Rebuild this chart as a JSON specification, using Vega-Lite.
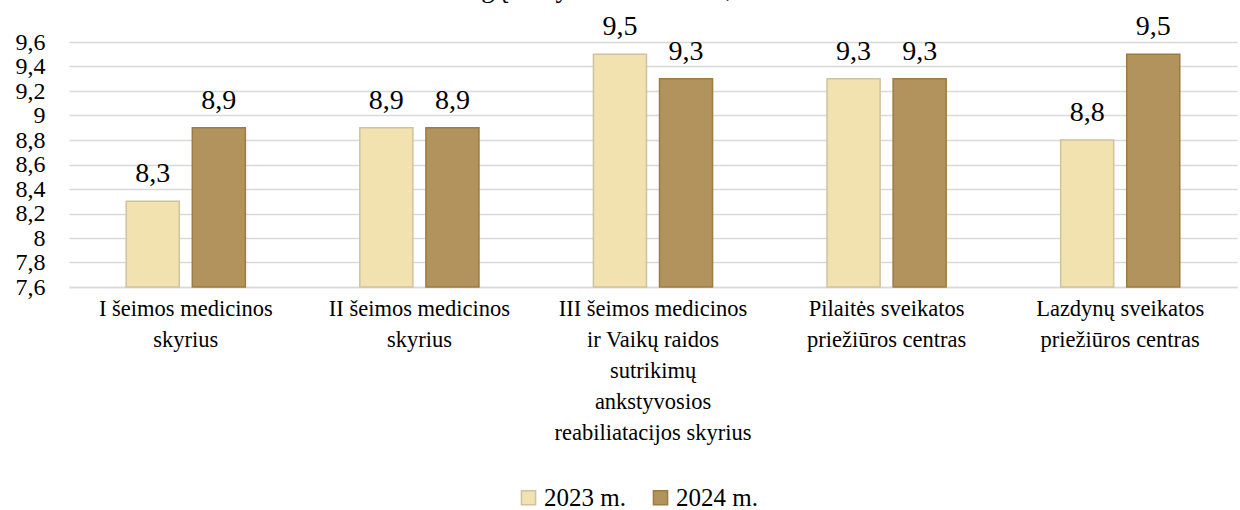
{
  "$schema": "https://vega.github.io/schema/vega-lite/v6.json",
  "width": 1168,
  "height": 245,
  "autosize": {"type": "none"},
  "padding": {"left": 69, "top": 42, "right": 3, "bottom": 223},
  "title": {"text": "Paslaugų kokybės vertinimas, 2023–2024 m.", "font": "Times New Roman, Liberation Serif, serif", "fontSize": 27, "fontWeight": "normal", "color": "#000000", "baseline": "alphabetic", "offset": 1, "dy": 12},
  "config": {
    "locale": {"number": {"decimal": ",", "thousands": " ", "grouping": [3], "currency": ["", ""]}},
    "font": "Liberation Serif",
    "view": {"stroke": null}
  },
  "data": {"values": [
    {"cat": "I šeimos medicinos|skyrius", "year": "2023 m.", "v": 8.3},
    {"cat": "I šeimos medicinos|skyrius", "year": "2024 m.", "v": 8.9},
    {"cat": "II šeimos medicinos|skyrius", "year": "2023 m.", "v": 8.9},
    {"cat": "II šeimos medicinos|skyrius", "year": "2024 m.", "v": 8.9},
    {"cat": "III šeimos medicinos|ir Vaikų raidos|sutrikimų|ankstyvosios|reabiliatacijos skyrius", "year": "2023 m.", "v": 9.5},
    {"cat": "III šeimos medicinos|ir Vaikų raidos|sutrikimų|ankstyvosios|reabiliatacijos skyrius", "year": "2024 m.", "v": 9.3},
    {"cat": "Pilaitės sveikatos|priežiūros centras", "year": "2023 m.", "v": 9.3},
    {"cat": "Pilaitės sveikatos|priežiūros centras", "year": "2024 m.", "v": 9.3},
    {"cat": "Lazdynų sveikatos|priežiūros centras", "year": "2023 m.", "v": 8.8},
    {"cat": "Lazdynų sveikatos|priežiūros centras", "year": "2024 m.", "v": 9.5}
  ]},
  "encoding": {
    "x": {"field": "cat", "type": "nominal", "sort": null, "title": null,
      "scale": {"paddingInner": 0.49, "paddingOuter": 0.245},
      "axis": {"labelAngle": 0, "labelExpr": "split(datum.label, '|')", "labelFont": "Times New Roman, Liberation Serif, serif", "labelColor": "#000000", "labelFontSize": 22.5, "labelLineHeight": 31, "labelPadding": 10, "labelLimit": 0, "ticks": false, "domainColor": "#D9D9D9", "domainWidth": 1.5, "labelBaseline": "top"}},
    "xOffset": {"field": "year", "type": "nominal", "scale": {"paddingInner": 0.197, "paddingOuter": 0}},
    "y": {"field": "v", "type": "quantitative", "title": null,
      "scale": {"domain": [7.6, 9.6], "zero": false, "nice": false},
      "axis": {"values": [7.6, 7.8, 8, 8.2, 8.4, 8.6, 8.8, 9, 9.2, 9.4, 9.6], "format": ".2~f", "labelFont": "Times New Roman, Liberation Serif, serif", "labelColor": "#000000", "labelFontSize": 24, "labelPadding": 24, "ticks": false, "domain": false, "gridColor": "#D9D9D9", "gridWidth": 1.5}}
  },
  "layer": [
    {"mark": {"type": "bar", "strokeWidth": 1.5},
      "encoding": {
        "y2": {"datum": 7.6},
        "color": {"field": "year", "type": "nominal", "title": null,
          "scale": {"domain": ["2023 m.", "2024 m."], "range": ["#F2E2B0", "#B3935D"]},
          "legend": {"orient": "none", "legendX": 447, "legendY": 443, "direction": "horizontal", "symbolType": "square", "symbolSize": 200, "symbolStrokeWidth": 1.5, "labelFont": "Times New Roman, Liberation Serif, serif", "labelColor": "#000000", "labelFontSize": 25, "columnPadding": 22, "labelOffset": 3}},
        "stroke": {"field": "year", "type": "nominal", "scale": {"domain": ["2023 m.", "2024 m."], "range": ["#CFC29E", "#9D7B42"]}, "legend": null}
      }},
    {"mark": {"type": "text", "font": "Times New Roman, Liberation Serif, serif", "fontSize": 28, "baseline": "alphabetic", "dy": -19, "color": "#000000"},
      "encoding": {"text": {"field": "v", "type": "quantitative", "format": ".1f"}}}
  ]
}
